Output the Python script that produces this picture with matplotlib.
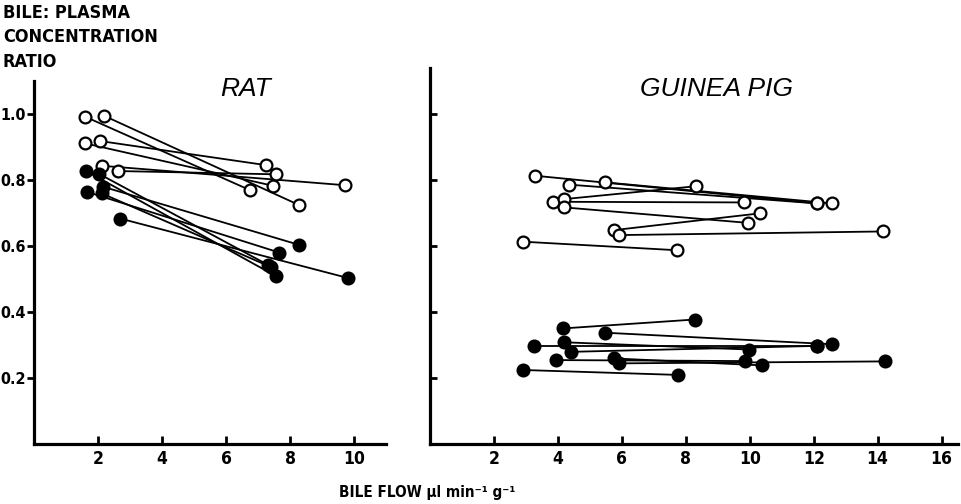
import matplotlib
matplotlib.use("Agg")
import matplotlib.pyplot as plt

# --- RAT: each animal measured at low and high bile flow ---
rat_open_lo_x = [1.59, 2.20, 1.59, 2.06, 2.11, 2.62]
rat_open_lo_y = [0.991, 0.993, 0.910, 0.917, 0.842, 0.826]
rat_open_hi_x = [6.75, 8.28, 7.48, 7.24, 9.72, 7.57]
rat_open_hi_y = [0.768, 0.723, 0.781, 0.844, 0.783, 0.816]

rat_filled_lo_x = [1.63, 2.04, 1.65, 2.17, 2.12, 2.69]
rat_filled_lo_y = [0.826, 0.817, 0.763, 0.778, 0.758, 0.682]
rat_filled_hi_x = [7.55, 7.32, 7.66, 8.29, 7.40, 9.80]
rat_filled_hi_y = [0.508, 0.541, 0.579, 0.602, 0.535, 0.502]

# --- GUINEA PIG ---
gp_lo_x = [2.90, 3.28, 3.85, 4.19, 4.19, 4.34, 5.47, 5.75, 5.92]
gp_hi_x = [7.74, 12.10, 9.81, 8.31, 9.95, 12.10, 12.57, 10.33, 14.17]
gp_open_lo_y = [0.612, 0.812, 0.733, 0.741, 0.716, 0.785, 0.792, 0.647, 0.632]
gp_open_hi_y = [0.586, 0.728, 0.731, 0.780, 0.669, 0.728, 0.728, 0.698, 0.643]

gp_filled_lo_x = [2.90, 3.26, 3.94, 4.17, 4.19, 4.41, 5.47, 5.76, 5.91]
gp_filled_hi_x = [7.76, 12.10, 9.84, 8.28, 9.98, 12.10, 12.58, 10.37, 14.22]
gp_filled_lo_y = [0.223, 0.296, 0.253, 0.349, 0.307, 0.278, 0.336, 0.258, 0.243]
gp_filled_hi_y = [0.208, 0.296, 0.250, 0.376, 0.285, 0.296, 0.301, 0.237, 0.249]

rat_xticks = [2, 4, 6, 8, 10]
gp_xticks = [2, 4, 6, 8, 10, 12, 14, 16]
yticks = [0.2, 0.4, 0.6, 0.8, 1.0]

lab = dict(fontweight='bold', family='DejaVu Sans', fontstretch='condensed')


def pairs(ax, x0, y0, x1, y1, filled):
    for a, b, c, d in zip(x0, y0, x1, y1):
        ax.plot([a, c], [b, d], color='black', lw=1.3, zorder=2)
    face = 'black' if filled else 'white'
    ax.plot(x0 + x1, y0 + y1, 'o', ms=8.5, mfc=face, mec='black', mew=1.6, ls='none', zorder=3)


def style(ax, xlim, ylim, xticks, ytick_dir, show_ylabels):
    ax.set_xlim(*xlim)
    ax.set_ylim(*ylim)
    for s in ['top', 'right']:
        ax.spines[s].set_visible(False)
    for s in ['left', 'bottom']:
        ax.spines[s].set_linewidth(2.3)
    ax.set_xticks(xticks)
    ax.set_xticklabels([str(t) for t in xticks], fontsize=12.5, **lab)
    ax.tick_params(axis='x', direction='in', length=6, width=2, pad=5)
    ax.set_yticks(yticks)
    if show_ylabels:
        ax.set_yticklabels(['%.1f' % t for t in yticks], fontsize=11.5, **lab)
    else:
        ax.set_yticklabels([])
    ax.tick_params(axis='y', direction=ytick_dir, length=5, width=2, pad=1)


fig = plt.figure(figsize=(9.61, 5.04), dpi=100)

ax1 = fig.add_axes([0.0354, 0.120, 0.3663, 0.720])
pairs(ax1, rat_open_lo_x, rat_open_lo_y, rat_open_hi_x, rat_open_hi_y, False)
pairs(ax1, rat_filled_lo_x, rat_filled_lo_y, rat_filled_hi_x, rat_filled_hi_y, True)
style(ax1, (0, 11.0), (0, 1.1), rat_xticks, 'out', True)
ax1.text(6.6, 1.075, 'RAT', ha='center', va='center', fontsize=19, style='italic',
         family='Liberation Sans')

ax2 = fig.add_axes([0.4474, 0.120, 0.549, 0.746])
pairs(ax2, gp_lo_x, gp_open_lo_y, gp_hi_x, gp_open_hi_y, False)
pairs(ax2, gp_filled_lo_x, gp_filled_lo_y, gp_filled_hi_x, gp_filled_hi_y, True)
style(ax2, (0, 16.5), (0, 1.14), gp_xticks, 'in', False)
ax2.text(8.95, 1.075, 'GUINEA PIG', ha='center', va='center', fontsize=19, style='italic',
         family='Liberation Sans')

fig.text(0.003, 0.992, 'BILE: PLASMA\nCONCENTRATION\nRATIO', ha='left', va='top',
         fontsize=13, linespacing=1.45, **lab)
fig.text(0.445, 0.008, 'BILE FLOW µl min⁻¹ g⁻¹', ha='center', va='bottom',
         fontsize=11, **lab)

fig.savefig('out.png', dpi=100)
